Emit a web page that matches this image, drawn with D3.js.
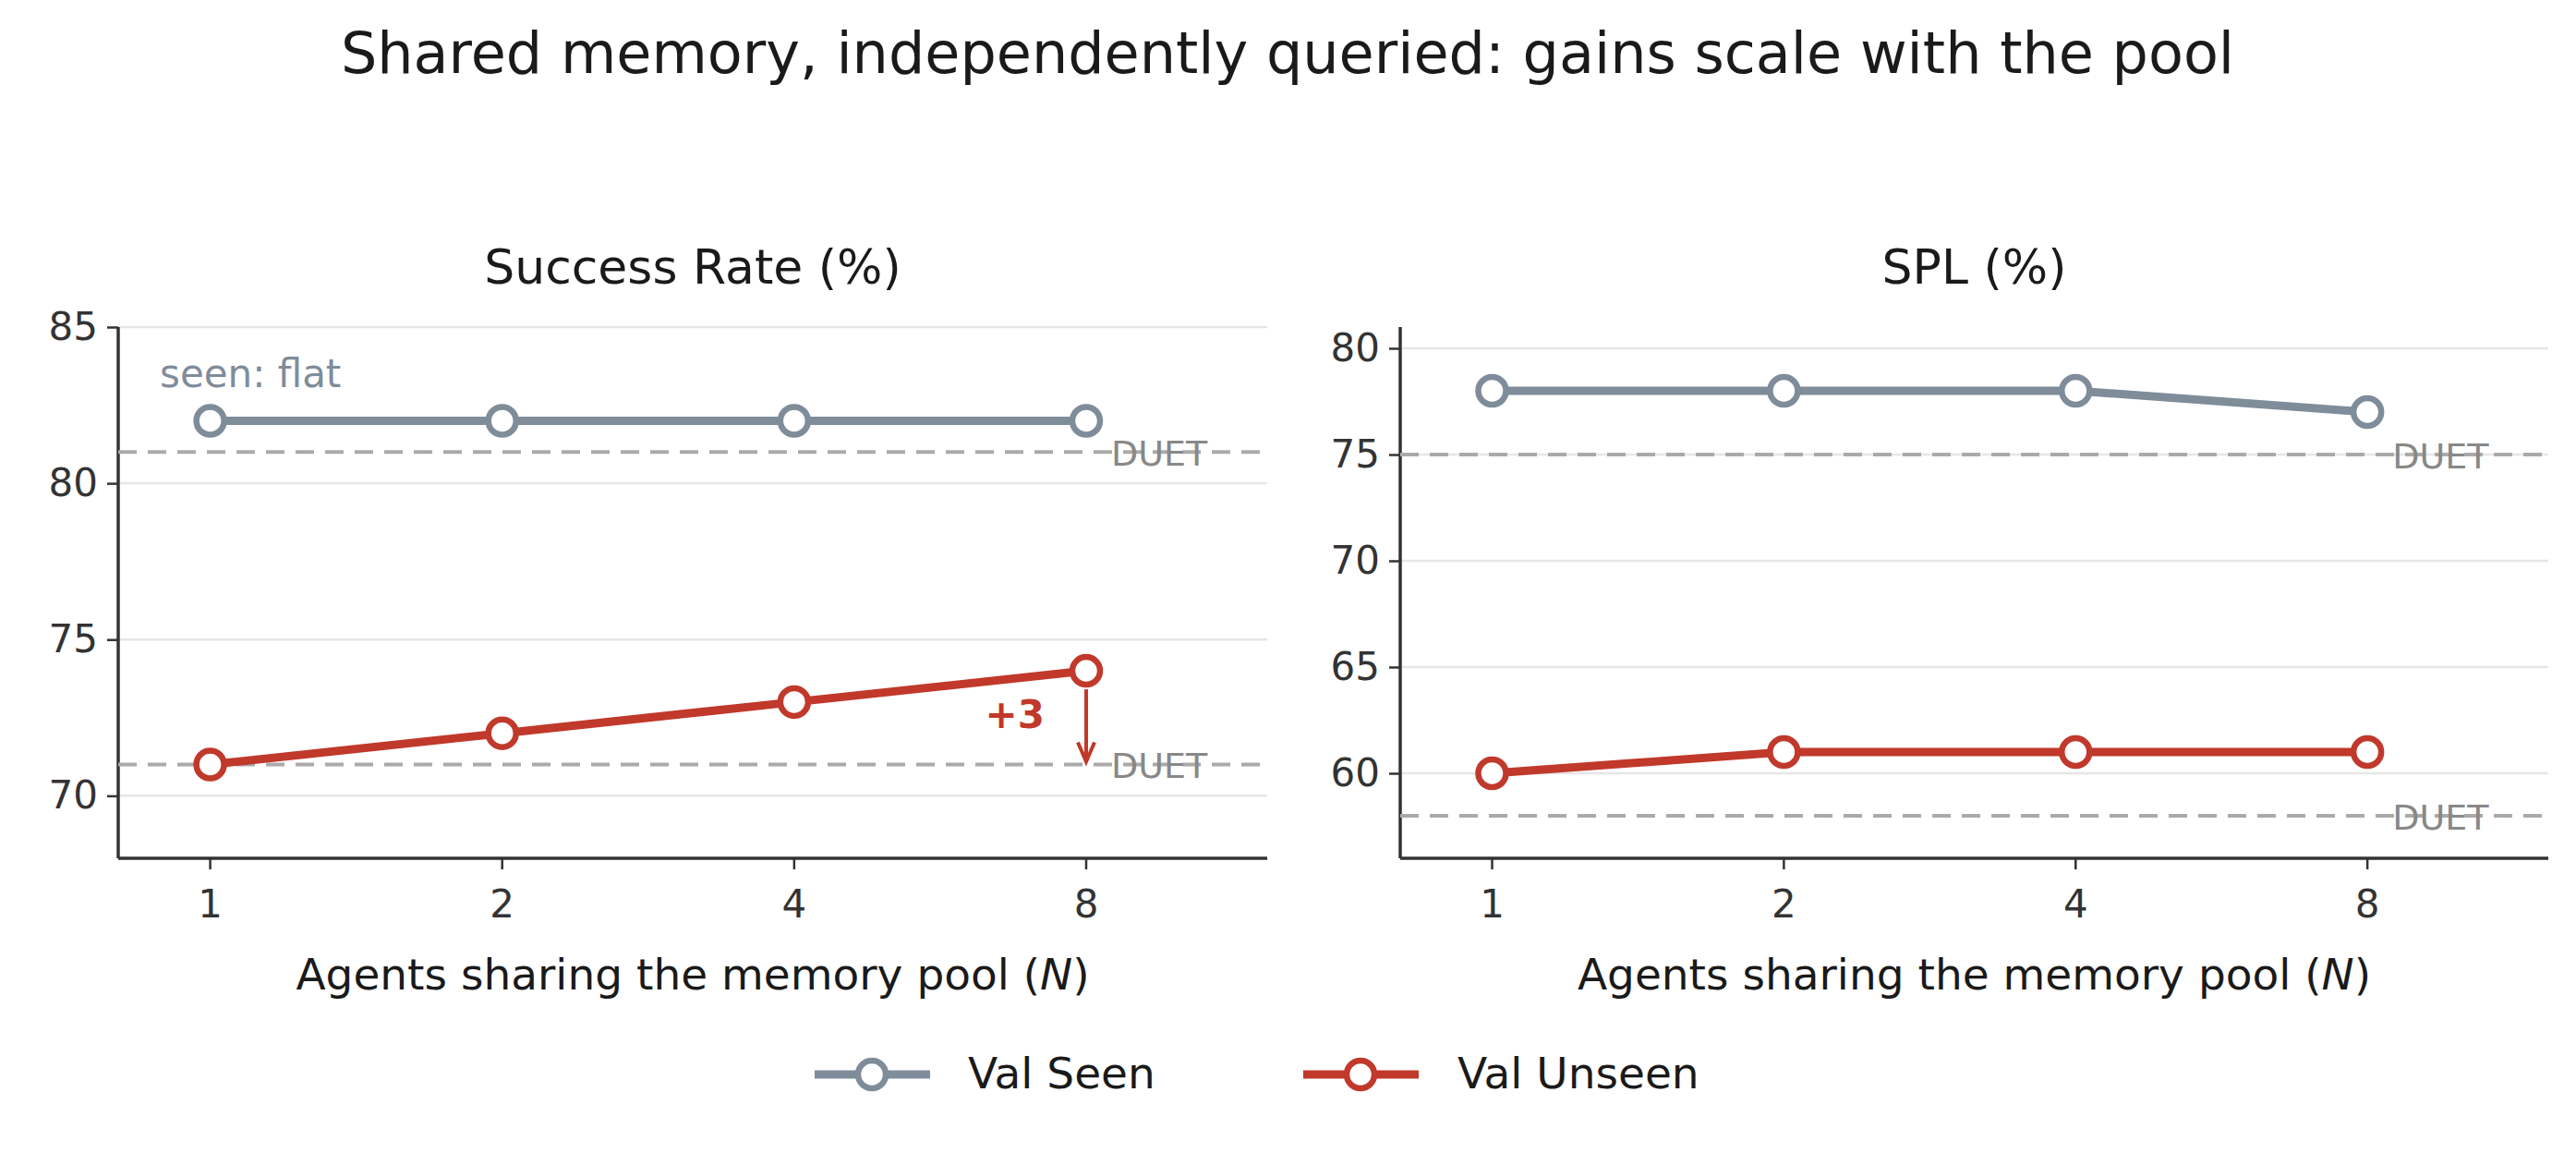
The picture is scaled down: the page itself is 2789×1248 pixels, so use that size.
<!DOCTYPE html>
<html><head><meta charset="utf-8">
<script src="https://cdn.jsdelivr.net/npm/d3@7"></script>
<style>body{margin:0;background:#fff}text{font-family:"DejaVu Sans",sans-serif}</style>
</head><body>
<svg id="c" width="2789" height="1248"></svg>
<script>
const categories = ["1","2","4","8"];
const srSeen = [82,82,82,82];
const srUnseen = [71,72,73,74];
const splSeen = [78,78,78,77];
const splUnseen = [60,61,61,61];
const srDuet = {seen:81, unseen:71};
const splDuet = {seen:75, unseen:58};
const srTicks = [70,75,80,85];
const splTicks = [60,65,70,75,80];
const seenC = "#7f8c9a", unseenC = "#c0392b";

const svg = d3.select("#c");
svg.append("text").attr("x",1394).attr("y",62).attr("text-anchor","middle").attr("dominant-baseline","middle")
  .attr("font-size",62).attr("fill","#1a1a1a").text("Shared memory, independently queried: gains scale with the pool");

function panel(x0, x1, title, domain, ticks, seen, unseen, duet, annot){
  const y0 = 354, y1 = 929;
  const x = d3.scalePoint().domain(categories).range([0,1]);
  const xs = d3.scaleLinear().domain([-0.315/3, 1+0.62/3]).range([x0,x1]);
  const X = c => xs(x(c));
  const y = d3.scaleLinear().domain(domain).range([y1,y0]);
  const g = svg.append("g");
  g.append("text").attr("x",(x0+x1)/2).attr("y",293).attr("text-anchor","middle").attr("dominant-baseline","middle")
    .attr("font-size",52).attr("fill","#1a1a1a").text(title);
  g.selectAll(".gr").data(ticks).join("line").attr("x1",x0).attr("x2",x1).attr("y1",d=>y(d)).attr("y2",d=>y(d))
    .attr("stroke","#e6e6e6").attr("stroke-width",2.5);
  const ya = g.append("g").attr("transform",`translate(${x0},0)`).call(d3.axisLeft(y).tickValues(ticks).tickSize(12).tickPadding(10));
  ya.attr("font-size",null).attr("font-family",null);
  const xg = g.append("g").attr("transform",`translate(0,${y1})`);
  xg.append("line").attr("x1",x0).attr("x2",x1).attr("stroke","#333").attr("stroke-width",3.5);
  categories.forEach(c=>{
    xg.append("line").attr("x1",X(c)).attr("x2",X(c)).attr("y1",0).attr("y2",12).attr("stroke","#333").attr("stroke-width",2.5);
    xg.append("text").attr("x",X(c)).attr("y",52).attr("text-anchor","middle").attr("dominant-baseline","middle")
      .attr("font-size",42).attr("fill","#333").text(c);
  });
  ya.select(".domain").attr("stroke","#333").attr("stroke-width",3.5).attr("d",`M0,${y0}V${y1}`);
  ya.selectAll(".tick line").attr("stroke","#333").attr("stroke-width",2.5);
  ya.selectAll(".tick text").attr("font-size",42).attr("fill","#333");
  const xl = g.append("text").attr("x",(x0+x1)/2).attr("y",1058).attr("text-anchor","middle").attr("dominant-baseline","middle")
    .attr("font-size",47).attr("fill","#1a1a1a");
  xl.append("tspan").text("Agents sharing the memory pool  (");
  xl.append("tspan").attr("font-style","italic").text("N");
  xl.append("tspan").text(")");
  [duet.seen, duet.unseen].forEach(v=>{
    g.append("line").attr("x1",x0).attr("x2",x1).attr("y1",y(v)).attr("y2",y(v))
      .attr("stroke","#aaaaaa").attr("stroke-width",4).attr("stroke-dasharray","20,12");
    g.append("text").attr("x",X("8")+27).attr("y",y(v)+4).attr("dominant-baseline","middle")
      .attr("font-size",38).attr("fill","#888").text("DUET");
  });
  const line = d3.line().x((d,i)=>X(categories[i])).y(d=>y(d));
  [[seen,seenC],[unseen,unseenC]].forEach(([data,col])=>{
    g.append("path").attr("d",line(data)).attr("fill","none").attr("stroke",col).attr("stroke-width",9);
    g.selectAll(null).data(data).join("circle").attr("cx",(d,i)=>X(categories[i])).attr("cy",d=>y(d)).attr("r",15)
      .attr("fill","#fff").attr("stroke",col).attr("stroke-width",6.5);
  });
  if(annot){
    const ax = X("8");
    g.append("line").attr("x1",ax).attr("x2",ax).attr("y1",y(unseen[3])+20).attr("y2",y(duet.unseen)-4)
      .attr("stroke",unseenC).attr("stroke-width",4);
    g.append("path").attr("d",`M${ax-9},${y(duet.unseen)-24}L${ax},${y(duet.unseen)-3}L${ax+9},${y(duet.unseen)-24}`)
      .attr("fill","none").attr("stroke",unseenC).attr("stroke-width",4);
    g.append("text").attr("x",ax-45).attr("y",y(72.5)).attr("text-anchor","end").attr("dominant-baseline","middle")
      .attr("font-size",42).attr("font-weight","bold").attr("fill",unseenC).text("+3");
    g.append("text").attr("x",173).attr("y",407).attr("dominant-baseline","middle")
      .attr("font-size",42).attr("fill",seenC).text("seen: flat");
  }
}
panel(128,1372,"Success Rate (%)",[68,85],srTicks,srSeen,srUnseen,srDuet,true);
panel(1516,2759,"SPL (%)",[56,81],splTicks,splSeen,splUnseen,splDuet,false);

const lg = svg.append("g");
[[882,1048,seenC,"Val Seen"],[1411,1578,unseenC,"Val Unseen"]].forEach(([lx,tx,col,t])=>{
  lg.append("line").attr("x1",lx).attr("x2",lx+125).attr("y1",1163).attr("y2",1163).attr("stroke",col).attr("stroke-width",9);
  lg.append("circle").attr("cx",lx+62).attr("cy",1163).attr("r",15).attr("fill","#fff").attr("stroke",col).attr("stroke-width",6.5);
  lg.append("text").attr("x",tx).attr("y",1165).attr("dominant-baseline","middle").attr("font-size",47).attr("fill","#1a1a1a").text(t);
});
</script></body></html>
